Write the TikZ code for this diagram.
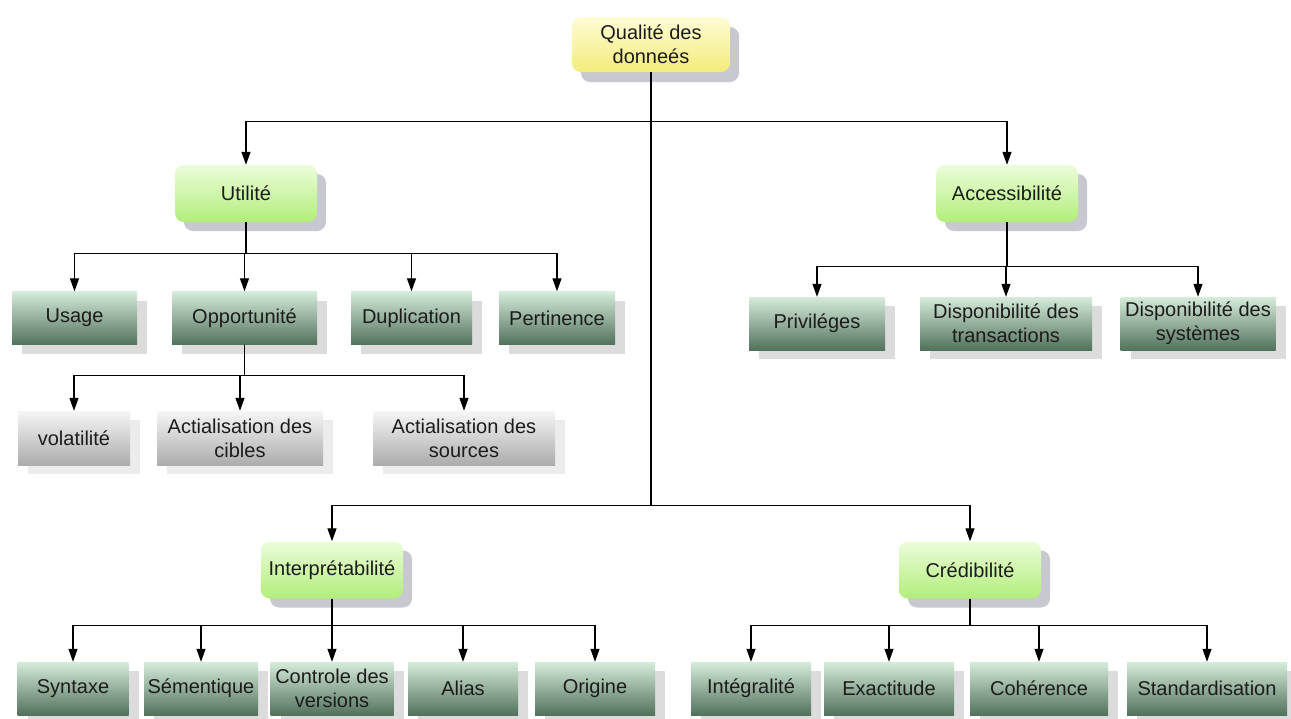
\documentclass[tikz,border=0pt]{standalone}
\usepackage{fontspec}
\setmainfont{Liberation Sans}
\usetikzlibrary{arrows.meta,shadows}

\definecolor{yeltop}{RGB}{255,252,214}
\definecolor{yelbot}{RGB}{244,236,122}
\definecolor{grntop}{RGB}{236,253,218}
\definecolor{grnbot}{RGB}{178,238,122}
\definecolor{dgtop}{RGB}{214,236,219}
\definecolor{dgbot}{RGB}{82,114,92}
\definecolor{grytop}{RGB}{246,246,246}
\definecolor{grybot}{RGB}{172,172,172}
\definecolor{shadeA}{RGB}{200,200,208}
\definecolor{shadeB}{RGB}{220,220,220}
\definecolor{shadeC}{RGB}{236,236,236}
\definecolor{txt}{RGB}{28,28,28}

\begin{document}
\begin{tikzpicture}[x=1pt,y=-1pt,
  every node/.style={font=\fontsize{20}{24}\selectfont, align=center,
    inner sep=0pt, text=txt},
  rootbox/.style={rounded corners=9pt, top color=yeltop, bottom color=yelbot,
    drop shadow={shadow xshift=9pt, shadow yshift=-10pt, fill=shadeA, opacity=1}},
  catbox/.style={rounded corners=9pt, top color=grntop, bottom color=grnbot,
    minimum width=142pt, minimum height=57pt,
    drop shadow={shadow xshift=9pt, shadow yshift=-9pt, fill=shadeA, opacity=1}},
  leaf/.style={top color=dgtop, bottom color=dgbot, minimum height=53pt,
    drop shadow={shadow xshift=10pt, shadow yshift=-9pt, fill=shadeB, opacity=1}},
  subleaf/.style={top color=grytop, bottom color=grybot, minimum height=54pt,
    drop shadow={shadow xshift=10pt, shadow yshift=-9pt, fill=shadeC, opacity=1}},
  arr/.style={draw=black, line width=1.2pt, -{Triangle[length=13pt,width=9pt]}}
]
\useasboundingbox (0,0) rectangle (1291,718);

% root
\node[rootbox, minimum width=158pt, minimum height=55pt] (root) at (651,44.5)
  {Qualité des\\donneés};

% four categories
\node[catbox] (util)   at (246,193.5)  {Utilité};
\node[catbox] (access) at (1007,193.5) {Accessibilité};
\node[catbox] (interp) at (332,570)    {Interprétabilité};
\node[catbox] (cred)   at (970,570)    {Crédibilité};

% Utilité
\node[leaf, minimum width=125pt] (usage) at (74.5,318) {Usage};
\node[leaf, minimum width=145pt] (opp)   at (244.5,318) {Opportunité};
\node[leaf, minimum width=121pt] (dupl)  at (411.5,318) {Duplication};
\node[leaf, minimum width=116pt] (pert)  at (557,318) {Pertinence};

% Opportunité
\node[subleaf, minimum width=112pt] (volat)   at (74,438)  {volatilité};
\node[subleaf, minimum width=166pt] (cibles)  at (240,438) {Actialisation des\\cibles};
\node[subleaf, minimum width=182pt] (sources) at (464,438) {Actialisation des\\sources};

% Accessibilité
\node[leaf, minimum width=136pt] (priv)  at (817,323.5)  {Priviléges};
\node[leaf, minimum width=172pt] (trans) at (1006,323.5) {Disponibilité des\\transactions};
\node[leaf, minimum width=155pt] (sys)   at (1198,323.5) {Disponibilité des\\systèmes};

% Interprétabilité
\node[leaf, minimum width=111pt] (synt)  at (73,688.5)  {Syntaxe};
\node[leaf, minimum width=114pt] (sem)   at (201,688.5) {Sémentique};
\node[leaf, minimum width=123pt] (ctrl)  at (332,688.5) {Controle des\\versions};
\node[leaf, minimum width=110pt] (alias) at (463,688.5) {Alias};
\node[leaf, minimum width=120pt] (orig)  at (595,688.5) {Origine};

% Crédibilité
\node[leaf, minimum width=120pt] (integ) at (751,688.5)  {Intégralité};
\node[leaf, minimum width=130pt] (exact) at (889,688.5)  {Exactitude};
\node[leaf, minimum width=138pt] (coher) at (1039,688.5) {Cohérence};
\node[leaf, minimum width=160pt] (stand) at (1207,688.5) {Standardisation};

% connectors
\foreach \c in {util,access}
  \draw[arr] (root.south) |- ([yshift=43pt]\c.north) -- (\c.north);
\foreach \c in {interp,cred}
  \draw[arr] (root.south) |- ([yshift=36pt]\c.north) -- (\c.north);
\foreach \c in {usage,opp,dupl,pert}
  \draw[arr] (util.south) |- ([yshift=38pt]\c.north) -- (\c.north);
\foreach \c in {volat,cibles,sources}
  \draw[arr] (opp.south) |- ([yshift=35pt]\c.north) -- (\c.north);
\foreach \c in {priv,trans,sys}
  \draw[arr] (access.south) |- ([yshift=30pt]\c.north) -- (\c.north);
\foreach \c in {synt,sem,ctrl,alias,orig}
  \draw[arr] (interp.south) |- ([yshift=36pt]\c.north) -- (\c.north);
\foreach \c in {integ,exact,coher,stand}
  \draw[arr] (cred.south) |- ([yshift=36pt]\c.north) -- (\c.north);
\end{tikzpicture}
\end{document}
